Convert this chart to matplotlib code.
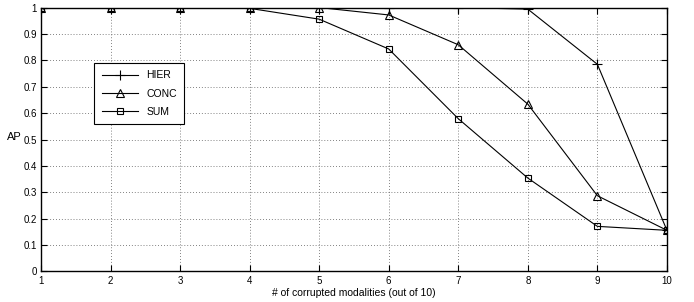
import matplotlib
matplotlib.use('Agg')
import matplotlib.pyplot as plt

x = [1, 2, 3, 4, 5, 6, 7, 8, 9, 10]
hier = [1.0, 1.0, 1.0, 0.998, 1.0, 1.0, 1.0, 0.994, 0.785, 0.156]
conc = [1.0, 1.0, 1.0, 0.998, 1.0, 0.972, 0.859, 0.634, 0.287, 0.156]
summ = [1.0, 1.0, 1.0, 0.997, 0.956, 0.843, 0.579, 0.354, 0.171, 0.156]
yticks = [0, 0.1, 0.2, 0.3, 0.4, 0.5, 0.6, 0.7, 0.8, 0.9, 1]
ylabels = ['0', '0.1', '0.2', '0.3', '0.4', '0.5', '0.6', '0.7', '0.8', '0.9', '1']

plt.rcParams['font.family'] = ['Liberation Sans', 'DejaVu Sans']

fig = plt.figure(figsize=(6.94, 3.02), dpi=100)
ax = fig.add_axes([0.059, 0.101, 0.902, 0.874])

ax.plot(x, hier, color='black', lw=0.8, marker='+', ms=7, mew=0.8, label='HIER')
ax.plot(x, conc, color='black', lw=0.8, marker='^', ms=6, mew=0.8, mfc='none', label='CONC')
ax.plot(x, summ, color='black', lw=0.8, marker='s', ms=5, mew=0.8, mfc='none', label='SUM')

ax.set_xlim(1, 10)
ax.set_ylim(0, 1)
ax.set_xticks(x)
ax.set_yticks(yticks)
ax.set_yticklabels(ylabels)
ax.tick_params(direction='in', top=True, right=True, labelsize=7, length=4, width=0.8, pad=3)
ax.grid(True, color='0.35', linestyle=(0, (1, 2.5)), linewidth=0.6)
for s in ax.spines.values():
    s.set_linewidth(1.0)

ax.set_xlabel('# of corrupted modalities (out of 10)', fontsize=7.5, labelpad=2)
ax.set_ylabel('AP', fontsize=8, rotation=0, labelpad=2)
ax.yaxis.set_label_coords(-0.042, 0.49)

leg = ax.legend(loc='upper left', bbox_to_anchor=(0.077, 0.81), fontsize=7.5, frameon=True,
                fancybox=False, edgecolor='black', framealpha=1, handlelength=3.5,
                borderpad=0.7, labelspacing=0.8)
leg.get_frame().set_linewidth(0.8)

fig.savefig('out.png', dpi=100)
